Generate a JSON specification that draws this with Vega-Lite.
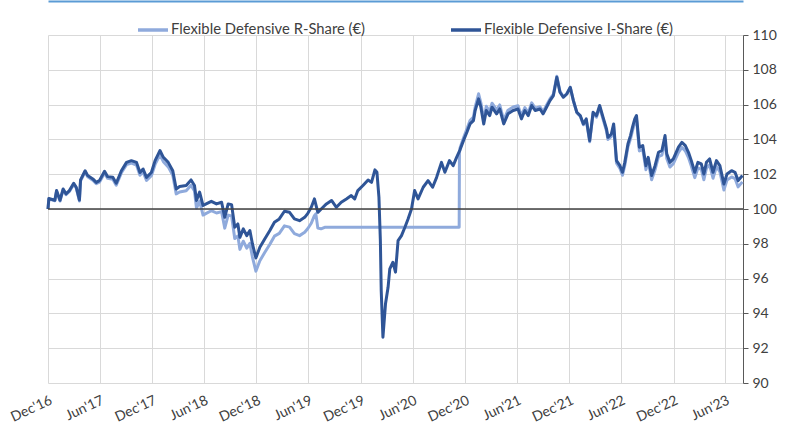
{
  "$schema": "https://vega.github.io/schema/vega-lite/v6.json",
  "width": 695,
  "height": 348,
  "autosize": {"type": "none"},
  "padding": {"left": 48, "top": 35, "right": 45, "bottom": 42},
  "background": "white",
  "config": {
    "font": "Lato",
    "view": {"stroke": null},
    "legend": {"labelFont": "Lato", "labelFontSize": 14.8, "labelColor": "#404040", "labelLimit": 0}
  },
  "resolve": {"axis": {"x": "independent"}},
  "encoding": {
    "x": {
      "field": "d", "type": "temporal",
      "scale": {"type": "utc", "domain": [{"year": 2016, "month": 12, "date": 31, "utc": true}, {"year": 2023, "month": 8, "date": 31, "utc": true}]},
      "axis": {
        "title": null,
        "format": "%b'%y",
        "values": [
          {"year": 2016, "month": 12, "date": 31, "utc": true},
          {"year": 2017, "month": 6, "date": 30, "utc": true},
          {"year": 2017, "month": 12, "date": 31, "utc": true},
          {"year": 2018, "month": 6, "date": 30, "utc": true},
          {"year": 2018, "month": 12, "date": 31, "utc": true},
          {"year": 2019, "month": 6, "date": 30, "utc": true},
          {"year": 2019, "month": 12, "date": 31, "utc": true},
          {"year": 2020, "month": 6, "date": 30, "utc": true},
          {"year": 2020, "month": 12, "date": 31, "utc": true},
          {"year": 2021, "month": 6, "date": 30, "utc": true},
          {"year": 2021, "month": 12, "date": 31, "utc": true},
          {"year": 2022, "month": 6, "date": 30, "utc": true},
          {"year": 2022, "month": 12, "date": 31, "utc": true},
          {"year": 2023, "month": 6, "date": 30, "utc": true}
        ],
        "domain": false,
        "ticks": false,
        "grid": true,
        "gridColor": "#d9d9d9",
        "gridWidth": 1,
        "labelAngle": -25,
        "labelFontSize": 14,
        "labelColor": "#404040",
        "labelPadding": 10,
        "labelOverlap": false,
        "labelFlush": false
      }
    },
    "y": {
      "field": "v", "type": "quantitative",
      "scale": {"domain": [90, 110], "nice": false, "zero": false},
      "axis": {
        "title": null,
        "orient": "right",
        "values": [90, 92, 94, 96, 98, 100, 102, 104, 106, 108, 110],
        "grid": true,
        "gridColor": "#d9d9d9",
        "domainColor": "#595959",
        "tickColor": "#595959",
        "tickSize": 5,
        "labelFontSize": 14,
        "labelColor": "#404040",
        "labelPadding": 4,
        "labelOverlap": false,
        "labelFlush": false
      }
    }
  },
  "layer": [
    {
      "data": {"values": [
        {"d": "2016-12-31", "v": 100.0},
        {"d": "2017-01-03", "v": 100.58},
        {"d": "2017-01-24", "v": 100.47},
        {"d": "2017-01-30", "v": 101.02},
        {"d": "2017-02-11", "v": 100.46},
        {"d": "2017-02-22", "v": 101.1},
        {"d": "2017-03-04", "v": 100.82},
        {"d": "2017-03-16", "v": 101.01},
        {"d": "2017-03-31", "v": 101.42},
        {"d": "2017-04-09", "v": 101.19},
        {"d": "2017-04-20", "v": 100.46},
        {"d": "2017-04-24", "v": 101.6},
        {"d": "2017-05-10", "v": 102.13},
        {"d": "2017-05-19", "v": 101.85},
        {"d": "2017-06-06", "v": 101.65},
        {"d": "2017-06-18", "v": 101.45},
        {"d": "2017-06-29", "v": 101.54},
        {"d": "2017-07-17", "v": 102.07},
        {"d": "2017-07-28", "v": 101.76},
        {"d": "2017-08-15", "v": 101.71},
        {"d": "2017-08-27", "v": 101.37},
        {"d": "2017-09-14", "v": 102.08},
        {"d": "2017-10-02", "v": 102.55},
        {"d": "2017-10-19", "v": 102.64},
        {"d": "2017-11-06", "v": 102.53},
        {"d": "2017-11-18", "v": 101.94},
        {"d": "2017-11-29", "v": 102.13},
        {"d": "2017-12-11", "v": 101.64},
        {"d": "2017-12-28", "v": 101.91},
        {"d": "2018-01-10", "v": 102.56},
        {"d": "2018-01-27", "v": 103.12},
        {"d": "2018-02-08", "v": 102.72},
        {"d": "2018-02-25", "v": 102.42},
        {"d": "2018-03-13", "v": 101.94},
        {"d": "2018-03-25", "v": 100.87},
        {"d": "2018-04-06", "v": 100.98},
        {"d": "2018-04-29", "v": 101.05},
        {"d": "2018-05-16", "v": 101.36},
        {"d": "2018-05-28", "v": 101.03},
        {"d": "2018-06-04", "v": 100.05},
        {"d": "2018-06-15", "v": 100.45},
        {"d": "2018-06-27", "v": 99.65},
        {"d": "2018-07-08", "v": 99.75},
        {"d": "2018-07-26", "v": 99.9},
        {"d": "2018-08-13", "v": 99.77},
        {"d": "2018-08-31", "v": 99.85},
        {"d": "2018-09-11", "v": 98.9},
        {"d": "2018-09-23", "v": 99.65},
        {"d": "2018-10-05", "v": 99.6},
        {"d": "2018-10-16", "v": 98.3},
        {"d": "2018-10-27", "v": 98.45},
        {"d": "2018-11-03", "v": 97.68},
        {"d": "2018-11-15", "v": 98.15},
        {"d": "2018-11-27", "v": 97.75},
        {"d": "2018-12-08", "v": 98.02},
        {"d": "2018-12-17", "v": 97.24},
        {"d": "2018-12-29", "v": 96.43},
        {"d": "2019-01-12", "v": 97.03},
        {"d": "2019-01-29", "v": 97.5},
        {"d": "2019-02-16", "v": 97.97},
        {"d": "2019-03-04", "v": 98.44},
        {"d": "2019-03-21", "v": 98.6},
        {"d": "2019-04-08", "v": 99.03},
        {"d": "2019-04-26", "v": 98.96},
        {"d": "2019-05-13", "v": 98.58},
        {"d": "2019-05-31", "v": 98.47},
        {"d": "2019-06-18", "v": 98.66},
        {"d": "2019-06-29", "v": 98.88},
        {"d": "2019-07-11", "v": 99.18},
        {"d": "2019-07-22", "v": 99.62},
        {"d": "2019-07-27", "v": 99.72},
        {"d": "2019-08-03", "v": 98.9},
        {"d": "2019-08-14", "v": 98.86},
        {"d": "2019-08-27", "v": 98.95},
        {"d": "2020-12-10", "v": 98.95},
        {"d": "2020-12-11", "v": 103.25},
        {"d": "2020-12-13", "v": 103.5},
        {"d": "2020-12-25", "v": 104.08},
        {"d": "2021-01-06", "v": 104.6},
        {"d": "2021-01-17", "v": 105.08},
        {"d": "2021-01-29", "v": 105.28},
        {"d": "2021-02-04", "v": 105.86},
        {"d": "2021-02-16", "v": 106.62},
        {"d": "2021-02-24", "v": 106.1},
        {"d": "2021-03-06", "v": 105.12},
        {"d": "2021-03-15", "v": 105.9},
        {"d": "2021-03-27", "v": 105.6},
        {"d": "2021-04-04", "v": 106.08},
        {"d": "2021-04-20", "v": 105.7},
        {"d": "2021-05-01", "v": 105.98},
        {"d": "2021-05-15", "v": 105.1},
        {"d": "2021-05-30", "v": 105.68},
        {"d": "2021-06-17", "v": 105.86},
        {"d": "2021-07-04", "v": 105.93},
        {"d": "2021-07-16", "v": 105.36},
        {"d": "2021-07-28", "v": 105.83},
        {"d": "2021-08-09", "v": 105.53},
        {"d": "2021-08-21", "v": 106.1},
        {"d": "2021-09-02", "v": 105.8},
        {"d": "2021-09-19", "v": 105.88},
        {"d": "2021-09-30", "v": 105.59},
        {"d": "2021-10-12", "v": 105.96},
        {"d": "2021-10-24", "v": 106.33},
        {"d": "2021-11-05", "v": 106.6},
        {"d": "2021-11-17", "v": 107.63},
        {"d": "2021-11-28", "v": 106.76},
        {"d": "2021-12-10", "v": 106.45},
        {"d": "2021-12-22", "v": 106.63},
        {"d": "2022-01-03", "v": 107.0},
        {"d": "2022-01-14", "v": 106.22},
        {"d": "2022-01-26", "v": 105.54},
        {"d": "2022-02-07", "v": 105.33},
        {"d": "2022-02-18", "v": 104.84},
        {"d": "2022-02-28", "v": 105.12},
        {"d": "2022-03-12", "v": 103.86},
        {"d": "2022-03-24", "v": 105.48},
        {"d": "2022-04-05", "v": 105.28},
        {"d": "2022-04-16", "v": 105.85},
        {"d": "2022-04-28", "v": 105.16},
        {"d": "2022-05-10", "v": 104.48},
        {"d": "2022-05-15", "v": 104.0},
        {"d": "2022-05-27", "v": 104.18},
        {"d": "2022-06-04", "v": 104.75},
        {"d": "2022-06-14", "v": 102.63},
        {"d": "2022-06-26", "v": 102.33},
        {"d": "2022-07-05", "v": 101.94},
        {"d": "2022-07-13", "v": 102.5},
        {"d": "2022-07-24", "v": 103.56},
        {"d": "2022-08-02", "v": 104.03},
        {"d": "2022-08-09", "v": 104.5},
        {"d": "2022-08-17", "v": 104.98},
        {"d": "2022-08-23", "v": 105.17},
        {"d": "2022-09-02", "v": 103.34},
        {"d": "2022-09-14", "v": 103.42},
        {"d": "2022-09-25", "v": 102.26},
        {"d": "2022-10-03", "v": 102.74},
        {"d": "2022-10-15", "v": 101.68},
        {"d": "2022-10-27", "v": 102.25},
        {"d": "2022-11-08", "v": 103.01},
        {"d": "2022-11-20", "v": 103.1},
        {"d": "2022-12-01", "v": 103.96},
        {"d": "2022-12-07", "v": 102.9},
        {"d": "2022-12-18", "v": 102.41},
        {"d": "2022-12-30", "v": 102.6},
        {"d": "2023-01-17", "v": 103.26},
        {"d": "2023-01-29", "v": 103.54},
        {"d": "2023-02-10", "v": 103.34},
        {"d": "2023-02-21", "v": 102.96},
        {"d": "2023-03-03", "v": 102.47},
        {"d": "2023-03-15", "v": 101.8},
        {"d": "2023-03-26", "v": 102.36},
        {"d": "2023-04-07", "v": 102.27},
        {"d": "2023-04-16", "v": 101.68},
        {"d": "2023-04-25", "v": 102.35},
        {"d": "2023-05-06", "v": 102.54},
        {"d": "2023-05-18", "v": 101.77},
        {"d": "2023-05-30", "v": 102.44},
        {"d": "2023-06-11", "v": 102.14},
        {"d": "2023-06-25", "v": 101.09},
        {"d": "2023-07-06", "v": 101.66},
        {"d": "2023-07-22", "v": 101.84},
        {"d": "2023-08-03", "v": 101.75},
        {"d": "2023-08-14", "v": 101.27},
        {"d": "2023-08-29", "v": 101.56}
      ]},
      "mark": {"type": "line", "strokeWidth": 3, "strokeJoin": "round"},
      "encoding": {
        "color": {
          "datum": "Flexible Defensive R-Share (€)",
          "scale": {"domain": ["Flexible Defensive R-Share (€)", "Flexible Defensive I-Share (€)"], "range": ["#8FAADC", "#2F5597"]},
          "legend": {
            "title": null,
            "orient": "none",
            "direction": "horizontal",
            "legendX": 88,
            "legendY": -22,
            "symbolType": "stroke",
            "symbolStrokeWidth": 3.5,
            "symbolSize": 900,
            "labelOffset": 1,
            "labelLimit": 0,
            "columnPadding": 78
          }
        }
      }
    },
    {
      "data": {"values": [
        {"d": "2016-12-31", "v": 100.0},
        {"d": "2017-01-03", "v": 100.6},
        {"d": "2017-01-24", "v": 100.5},
        {"d": "2017-01-30", "v": 101.06},
        {"d": "2017-02-11", "v": 100.5},
        {"d": "2017-02-22", "v": 101.15},
        {"d": "2017-03-04", "v": 100.87},
        {"d": "2017-03-16", "v": 101.06},
        {"d": "2017-03-31", "v": 101.48},
        {"d": "2017-04-09", "v": 101.25},
        {"d": "2017-04-20", "v": 100.52},
        {"d": "2017-04-24", "v": 101.67},
        {"d": "2017-05-10", "v": 102.2},
        {"d": "2017-05-19", "v": 101.92},
        {"d": "2017-06-06", "v": 101.73},
        {"d": "2017-06-18", "v": 101.53},
        {"d": "2017-06-29", "v": 101.63},
        {"d": "2017-07-17", "v": 102.17},
        {"d": "2017-07-28", "v": 101.86},
        {"d": "2017-08-15", "v": 101.82},
        {"d": "2017-08-27", "v": 101.48},
        {"d": "2017-09-14", "v": 102.2},
        {"d": "2017-10-02", "v": 102.68},
        {"d": "2017-10-19", "v": 102.78},
        {"d": "2017-11-06", "v": 102.68},
        {"d": "2017-11-18", "v": 102.1},
        {"d": "2017-11-29", "v": 102.3},
        {"d": "2017-12-11", "v": 101.82},
        {"d": "2017-12-28", "v": 102.1},
        {"d": "2018-01-10", "v": 102.78},
        {"d": "2018-01-27", "v": 103.36},
        {"d": "2018-02-08", "v": 102.97},
        {"d": "2018-02-25", "v": 102.68},
        {"d": "2018-03-13", "v": 102.2},
        {"d": "2018-03-25", "v": 101.15},
        {"d": "2018-04-06", "v": 101.29},
        {"d": "2018-04-29", "v": 101.35},
        {"d": "2018-05-16", "v": 101.67},
        {"d": "2018-05-28", "v": 101.35},
        {"d": "2018-06-04", "v": 100.49},
        {"d": "2018-06-15", "v": 100.97},
        {"d": "2018-06-27", "v": 100.2},
        {"d": "2018-07-08", "v": 100.29},
        {"d": "2018-07-26", "v": 100.44},
        {"d": "2018-08-13", "v": 100.29},
        {"d": "2018-08-31", "v": 100.39},
        {"d": "2018-09-11", "v": 99.52},
        {"d": "2018-09-23", "v": 100.29},
        {"d": "2018-10-05", "v": 100.25},
        {"d": "2018-10-16", "v": 98.95},
        {"d": "2018-10-27", "v": 99.14},
        {"d": "2018-11-03", "v": 98.37},
        {"d": "2018-11-15", "v": 98.86},
        {"d": "2018-11-27", "v": 98.47},
        {"d": "2018-12-08", "v": 98.76},
        {"d": "2018-12-17", "v": 97.99},
        {"d": "2018-12-29", "v": 97.19},
        {"d": "2019-01-12", "v": 97.8},
        {"d": "2019-01-29", "v": 98.28},
        {"d": "2019-02-16", "v": 98.76},
        {"d": "2019-03-04", "v": 99.24},
        {"d": "2019-03-21", "v": 99.43},
        {"d": "2019-04-08", "v": 99.87},
        {"d": "2019-04-26", "v": 99.81},
        {"d": "2019-05-13", "v": 99.43},
        {"d": "2019-05-31", "v": 99.33},
        {"d": "2019-06-18", "v": 99.52},
        {"d": "2019-06-29", "v": 99.75},
        {"d": "2019-07-11", "v": 100.1},
        {"d": "2019-07-22", "v": 100.58},
        {"d": "2019-08-03", "v": 99.81},
        {"d": "2019-08-21", "v": 100.1},
        {"d": "2019-09-02", "v": 100.29},
        {"d": "2019-09-20", "v": 100.49},
        {"d": "2019-10-07", "v": 100.1},
        {"d": "2019-10-24", "v": 100.39},
        {"d": "2019-11-11", "v": 100.58},
        {"d": "2019-11-28", "v": 100.77},
        {"d": "2019-12-10", "v": 100.58},
        {"d": "2019-12-21", "v": 101.06},
        {"d": "2020-01-08", "v": 101.35},
        {"d": "2020-01-26", "v": 101.67},
        {"d": "2020-02-07", "v": 101.53},
        {"d": "2020-02-19", "v": 102.25},
        {"d": "2020-02-26", "v": 102.11},
        {"d": "2020-03-04", "v": 100.67},
        {"d": "2020-03-09", "v": 98.18},
        {"d": "2020-03-12", "v": 95.31},
        {"d": "2020-03-18", "v": 92.63},
        {"d": "2020-03-27", "v": 94.55},
        {"d": "2020-04-05", "v": 95.5},
        {"d": "2020-04-11", "v": 96.56},
        {"d": "2020-04-22", "v": 96.94},
        {"d": "2020-05-01", "v": 96.37},
        {"d": "2020-05-10", "v": 98.18},
        {"d": "2020-05-22", "v": 98.47},
        {"d": "2020-06-03", "v": 98.95},
        {"d": "2020-06-14", "v": 99.43},
        {"d": "2020-06-26", "v": 100.0},
        {"d": "2020-07-07", "v": 101.06},
        {"d": "2020-07-19", "v": 100.58},
        {"d": "2020-08-06", "v": 101.25},
        {"d": "2020-08-23", "v": 101.63},
        {"d": "2020-09-08", "v": 101.25},
        {"d": "2020-09-22", "v": 101.82},
        {"d": "2020-10-09", "v": 102.68},
        {"d": "2020-10-21", "v": 102.11},
        {"d": "2020-11-06", "v": 102.78},
        {"d": "2020-11-19", "v": 102.49},
        {"d": "2020-12-01", "v": 102.97},
        {"d": "2020-12-13", "v": 103.4},
        {"d": "2020-12-25", "v": 103.93},
        {"d": "2021-01-06", "v": 104.41},
        {"d": "2021-01-17", "v": 104.89},
        {"d": "2021-01-29", "v": 105.08},
        {"d": "2021-02-04", "v": 105.66},
        {"d": "2021-02-16", "v": 106.33},
        {"d": "2021-02-24", "v": 105.85},
        {"d": "2021-03-06", "v": 104.89},
        {"d": "2021-03-15", "v": 105.66},
        {"d": "2021-03-27", "v": 105.37},
        {"d": "2021-04-04", "v": 105.85},
        {"d": "2021-04-20", "v": 105.47},
        {"d": "2021-05-01", "v": 105.75},
        {"d": "2021-05-15", "v": 104.89},
        {"d": "2021-05-30", "v": 105.47},
        {"d": "2021-06-17", "v": 105.66},
        {"d": "2021-07-04", "v": 105.75},
        {"d": "2021-07-16", "v": 105.18},
        {"d": "2021-07-28", "v": 105.66},
        {"d": "2021-08-09", "v": 105.37},
        {"d": "2021-08-21", "v": 105.95},
        {"d": "2021-09-02", "v": 105.66},
        {"d": "2021-09-19", "v": 105.75},
        {"d": "2021-09-30", "v": 105.47},
        {"d": "2021-10-12", "v": 105.85},
        {"d": "2021-10-24", "v": 106.23},
        {"d": "2021-11-05", "v": 106.52},
        {"d": "2021-11-17", "v": 107.57},
        {"d": "2021-11-28", "v": 106.71},
        {"d": "2021-12-10", "v": 106.42},
        {"d": "2021-12-22", "v": 106.61},
        {"d": "2022-01-03", "v": 106.99},
        {"d": "2022-01-14", "v": 106.23},
        {"d": "2022-01-26", "v": 105.56},
        {"d": "2022-02-07", "v": 105.37},
        {"d": "2022-02-18", "v": 104.89},
        {"d": "2022-02-28", "v": 105.18},
        {"d": "2022-03-12", "v": 103.93},
        {"d": "2022-03-24", "v": 105.56},
        {"d": "2022-04-05", "v": 105.37},
        {"d": "2022-04-16", "v": 105.95},
        {"d": "2022-04-28", "v": 105.27},
        {"d": "2022-05-10", "v": 104.6},
        {"d": "2022-05-15", "v": 104.12},
        {"d": "2022-05-27", "v": 104.31},
        {"d": "2022-06-04", "v": 104.89},
        {"d": "2022-06-14", "v": 102.78},
        {"d": "2022-06-26", "v": 102.49},
        {"d": "2022-07-05", "v": 102.11},
        {"d": "2022-07-13", "v": 102.68},
        {"d": "2022-07-24", "v": 103.74},
        {"d": "2022-08-02", "v": 104.22},
        {"d": "2022-08-09", "v": 104.7},
        {"d": "2022-08-17", "v": 105.18},
        {"d": "2022-08-23", "v": 105.37},
        {"d": "2022-09-02", "v": 103.55},
        {"d": "2022-09-14", "v": 103.64},
        {"d": "2022-09-25", "v": 102.49},
        {"d": "2022-10-03", "v": 102.97},
        {"d": "2022-10-15", "v": 101.92},
        {"d": "2022-10-27", "v": 102.49},
        {"d": "2022-11-08", "v": 103.26},
        {"d": "2022-11-20", "v": 103.36},
        {"d": "2022-12-01", "v": 104.22},
        {"d": "2022-12-07", "v": 103.17},
        {"d": "2022-12-18", "v": 102.68},
        {"d": "2022-12-30", "v": 102.88},
        {"d": "2023-01-17", "v": 103.55},
        {"d": "2023-01-29", "v": 103.83},
        {"d": "2023-02-10", "v": 103.64},
        {"d": "2023-02-21", "v": 103.26},
        {"d": "2023-03-03", "v": 102.78},
        {"d": "2023-03-15", "v": 102.11},
        {"d": "2023-03-26", "v": 102.68},
        {"d": "2023-04-07", "v": 102.59},
        {"d": "2023-04-16", "v": 102.01},
        {"d": "2023-04-25", "v": 102.68},
        {"d": "2023-05-06", "v": 102.88},
        {"d": "2023-05-18", "v": 102.11},
        {"d": "2023-05-30", "v": 102.78},
        {"d": "2023-06-11", "v": 102.49},
        {"d": "2023-06-25", "v": 101.44},
        {"d": "2023-07-06", "v": 102.01},
        {"d": "2023-07-22", "v": 102.2},
        {"d": "2023-08-03", "v": 102.11},
        {"d": "2023-08-14", "v": 101.63},
        {"d": "2023-08-29", "v": 101.92}
      ]},
      "mark": {"type": "line", "strokeWidth": 3, "strokeJoin": "round"},
      "encoding": {
        "x": {"field": "d", "type": "temporal", "axis": null},
        "color": {"datum": "Flexible Defensive I-Share (€)"}
      }
    },
    {
      "data": {"values": [{"d": "2016-12-31", "v": 100}, {"d": "2023-08-31", "v": 100}]},
      "mark": {"type": "line", "color": "#404040", "strokeWidth": 1.3},
      "encoding": {
        "x": {
          "field": "d", "type": "temporal",
          "axis": {"orient": "top", "title": null, "labels": false, "ticks": false, "grid": false, "domain": true, "domainColor": "#5B9BD5", "domainWidth": 2, "offset": 34}
        }
      }
    }
  ]
}
